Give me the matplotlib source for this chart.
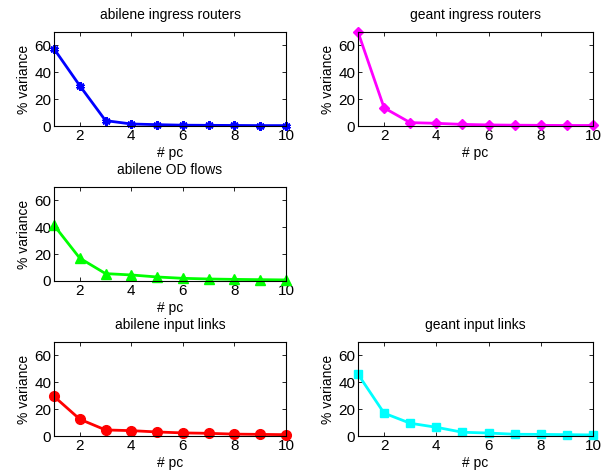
import matplotlib
matplotlib.use("Agg")
import matplotlib.pyplot as plt

plt.rcParams['font.family'] = ['Liberation Sans', 'DejaVu Sans']

pcs = [1, 2, 3, 4, 5, 6, 7, 8, 9, 10]

abilene_ingress = [57.5, 30, 4, 1.5, 1, 0.6, 0.5, 0.4, 0.3, 0.3]
geant_ingress = [70, 13.5, 2.5, 2, 1.2, 0.8, 0.6, 0.5, 0.4, 0.4]
abilene_od = [41.5, 17, 5.5, 4.5, 3, 2, 1.5, 1.2, 1, 0.8]
abilene_links = [29.5, 12.5, 4.5, 4, 3, 2.3, 2, 1.4, 1.2, 1]
geant_links = [46, 17, 9.5, 6.5, 2.8, 2.2, 1.3, 1.2, 1, 0.8]

W, H = 611, 471
fig = plt.figure(figsize=(W / 100, H / 100), dpi=100)

def px_axes(x0, y0, x1, y1):
    return fig.add_axes([x0 / W, 1 - y1 / H, (x1 - x0) / W, (y1 - y0) / H])

# title, values, colour, marker, marker size, axes box in pixels
panels = [
    ("abilene ingress routers", abilene_ingress, '#0000ff', (6, 2, 0), 6, (54, 32, 286, 126)),
    ("geant ingress routers", geant_ingress, '#ff00ff', 'D', 5.5, (358, 32, 593, 126)),
    ("abilene OD flows", abilene_od, '#00ff00', '^', 7, (54, 187, 286, 281)),
    ("abilene input links", abilene_links, '#ff0000', 'o', 7, (54, 342, 286, 436)),
    ("geant input links", geant_links, '#00ffff', 's', 6, (358, 342, 593, 436)),
]

for title, vals, col, mk, ms, box in panels:
    ax = px_axes(*box)
    ax.plot(pcs, vals, color=col, lw=2, marker=mk, ms=ms,
            mew=2 if mk == (6, 2, 0) else 1,
            mfc=col, mec=col, clip_on=False)
    ax.set_xlim(1, 10)
    ax.set_ylim(0, 70)
    ax.set_xticks([2, 4, 6, 8, 10])
    ax.set_yticks([0, 20, 40, 60])
    ax.tick_params(direction='in', top=True, right=True, labelsize=11,
                   length=3, width=0.6, pad=2)
    for s in ax.spines.values():
        s.set_linewidth(0.8)
    ax.set_title(title, fontsize=10, pad=9)
    ax.set_xlabel("# pc", fontsize=10, labelpad=2)
    ax.set_ylabel("% variance", fontsize=10, labelpad=2)

fig.savefig("out.png", dpi=100)
